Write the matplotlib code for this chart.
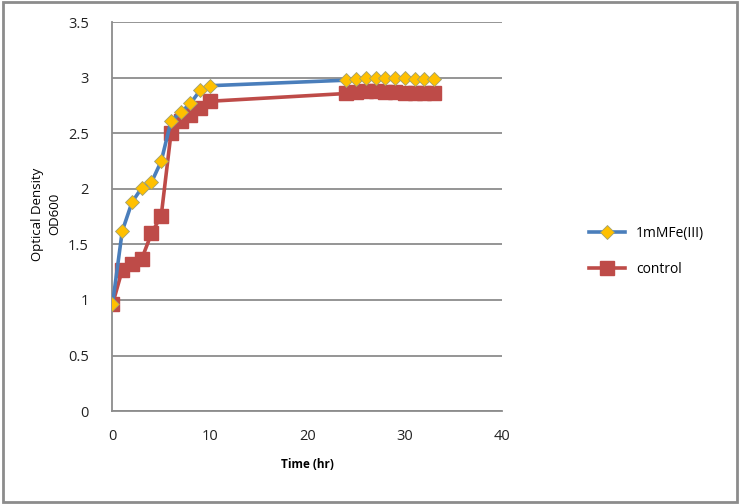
import matplotlib.pyplot as plt
from matplotlib.patches import Rectangle

plt.rcParams['font.family'] = ['Open Sans', 'DejaVu Sans']

# data ---------------------------------------------------------
time_hr = [0, 1, 2, 3, 4, 5, 6, 7, 8, 9, 10,
           24, 25, 26, 27, 28, 29, 30, 31, 32, 33]
fe_od = [0.96, 1.62, 1.88, 2.01, 2.06, 2.25, 2.61, 2.69, 2.77, 2.89, 2.93,
         2.98, 2.99, 3.0, 3.0, 3.0, 3.0, 3.0, 2.99, 2.99, 2.99]
ctrl_od = [0.96, 1.27, 1.32, 1.37, 1.60, 1.76, 2.50, 2.61, 2.67, 2.73, 2.79,
           2.86, 2.87, 2.88, 2.88, 2.87, 2.87, 2.86, 2.86, 2.86, 2.86]
series_names = ['1mMFe(III)', 'control']
xticks = [0, 10, 20, 30, 40]
yticks = [0, 0.5, 1, 1.5, 2, 2.5, 3, 3.5]

fig = plt.figure(figsize=(7.4, 5.04), dpi=100)
ax = fig.add_axes([0.152, 0.1845, 0.527, 0.771])

ax.plot(time_hr, fe_od, color='#4a7ebb', lw=2.6, marker='D', ms=7,
        mfc='#ffc000', mec='#a0a070', mew=0.6, label=series_names[0], zorder=3)
ax.plot(time_hr, ctrl_od, color='#be4b48', lw=2.6, marker='s', ms=10,
        mfc='#be4b48', mec='#be4b48', label=series_names[1], zorder=2)

ax.set_xlim(0, 40)
ax.set_ylim(0, 3.5)
ax.set_xticks(xticks)
ax.set_xticklabels([str(t) for t in xticks])
ax.set_yticks(yticks)
ax.set_yticklabels([f'{t:g}' for t in yticks])
ax.tick_params(length=0, labelsize=10.5, colors='#222222')
ax.tick_params(axis='y', pad=17)
ax.tick_params(axis='x', pad=13)
ax.grid(axis='y', color='#8c8c8c', lw=1.3)
ax.set_axisbelow(True)
for s in ['top', 'right']:
    ax.spines[s].set_visible(False)
for s in ['left', 'bottom']:
    ax.spines[s].set_color('#8c8c8c')
    ax.spines[s].set_linewidth(1.3)

ax.set_xlabel('Time (hr)', fontsize=8.5, fontweight='bold', labelpad=10)
fig.text(0.062, 0.575, 'Optical Density\nOD600', rotation=90, fontsize=9.5,
         ha='center', va='center', linespacing=1.4)

leg = ax.legend(loc='center left', bbox_to_anchor=(1.19, 0.41), frameon=False,
                fontsize=10, handlelength=2.6, labelspacing=1.5)

fig.patches.append(Rectangle((0.004, 0.004), 0.992, 0.992, transform=fig.transFigure,
                             fill=False, ec='#8c8c8c', lw=2))

fig.savefig('out.png', dpi=100)
